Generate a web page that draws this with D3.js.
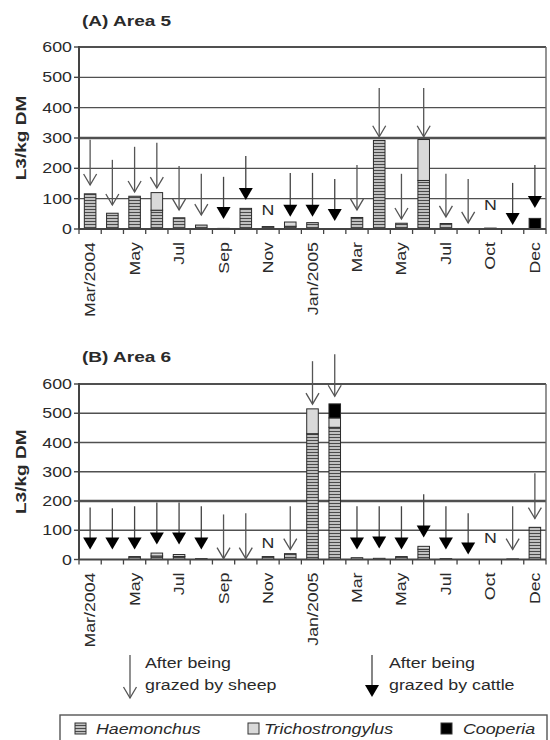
<!DOCTYPE html>
<html>
<head>
<meta charset="utf-8">
<script src="https://cdn.jsdelivr.net/npm/d3@7"></script>
<style>
  html, body { margin: 0; padding: 0; background: #fff; }
  svg { display: block; }
  text { font-family: "Liberation Sans", Arial, sans-serif; fill: #2a2a2a; }
</style>
</head>
<body>
<svg id="chart" width="550" height="740"></svg>
<script>
// ---------- DATA ----------
const months = ["2004-03","2004-04","2004-05","2004-06","2004-07","2004-08","2004-09","2004-10","2004-11","2004-12",
                "2005-01","2005-02","2005-03","2005-04","2005-05","2005-06","2005-07","2005-08","2005-10","2005-11","2005-12"];
const tickLabels = ["Mar/2004","","May","","Jul","","Sep","","Nov","","Jan/2005","","Mar","","May","","Jul","","Oct","","Dec"];
const yTicks = [0,100,200,300,400,500,600];

// Panel A (Area 5)
const haemA   = [116, 52, 108, 62, 37, 13, 2, 68, 8, 9, 21, 0, 38, 292, 19, 160, 18, 0, 3, 0, 0];
const trichoA = [0, 0, 0, 58, 0, 0, 0, 0, 0, 14, 0, 0, 0, 0, 0, 135, 0, 0, 0, 0, 0];
const coopA   = [0, 0, 0, 0, 0, 0, 0, 0, 0, 0, 0, 0, 0, 0, 0, 0, 0, 0, 0, 0, 35];
// arrow type: S = after sheep grazing, C = after cattle grazing, N = not grazed
const grazeA    = ["S","S","S","S","S","S","C","C","N","C","C","C","S","S","S","S","S","S","N","C","C"];
const arrowTopA = [294,228,271,284,208,182,172,241,null,185,185,165,211,465,182,465,182,165,null,152,211];
const arrowTipA = [145,79,122,135,63,46,33,96,63,40,40,26,63,304,33,304,40,20,79,13,69];

// Panel B (Area 6)
const haemB   = [0, 0, 10, 12, 10, 3, 0, 0, 10, 20, 430, 452, 6, 4, 10, 35, 3, 0, 0, 2, 110];
const trichoB = [0, 0, 0, 10, 7, 0, 0, 0, 0, 0, 85, 32, 0, 0, 0, 10, 0, 0, 0, 0, 0];
const coopB   = [0, 0, 0, 0, 0, 0, 0, 0, 0, 0, 0, 48, 0, 0, 0, 0, 0, 0, 0, 0, 0];
const grazeB    = ["C","C","C","C","C","C","S","S","N","S","S","S","C","C","C","C","C","C","N","S","S"];
const arrowTopB = [178,175,182,195,195,182,154,158,null,182,678,702,182,182,182,223,182,158,null,182,295];
const arrowTipB = [34,34,34,51,51,34,3,3,58,34,531,558,34,38,34,75,34,17,72,34,140];

const seriesNames = ["Haemonchus","Trichostrongylus","Cooperia"];

// ---------- DRAWING ----------
const SX = 1.27; // horizontal glyph stretch of the original typeface
const svg = d3.select("#chart");

const defs = svg.append("defs");
const pat = defs.append("pattern").attr("id","hstripe").attr("patternUnits","userSpaceOnUse")
  .attr("width",4).attr("height",3);
pat.append("rect").attr("width",4).attr("height",3).attr("fill","#c0c0c0");
pat.append("rect").attr("y",2).attr("width",4).attr("height",1).attr("fill","#4a4a4a");

const fills = {"Haemonchus":"url(#hstripe)","Trichostrongylus":"#d9d9d9","Cooperia":"#000"};

function stext(g, x, y, str, o = {}) {
  const t = g.append("text")
    .attr("transform", `translate(${x},${y})` + (o.rotate ? ` rotate(${o.rotate})` : "") + ` scale(${SX},1)`)
    .attr("text-anchor", o.anchor || "start")
    .attr("dy", o.dy || 0)
    .style("font-size", (o.size || 14) + "px")
    .style("font-weight", o.weight || "normal")
    .style("font-style", o.italic ? "italic" : "normal")
    .text(str);
  return t;
}

const x = d3.scaleBand().domain(months).range([79, 546]).padding(0);
const bw = x.bandwidth();
const barW = bw * 0.52;

function panel(cfg) {
  const g = svg.append("g");
  const y = d3.scaleLinear().domain([0, 600]).range([cfg.y0, cfg.y600]);
  const x0 = x.range()[0], x1 = x.range()[1];

  // title
  stext(g, 82, cfg.titleY, cfg.title, {size: 15, weight: "bold"});

  // gridlines
  yTicks.filter(v => v > 0).forEach(v => {
    g.append("line").attr("x1", x0).attr("x2", x1).attr("y1", y(v)).attr("y2", y(v))
      .attr("stroke", "#505050")
      .attr("stroke-width", v === cfg.heavy ? 2.6 : (v === 600 ? 2 : 1.4));
  });
  // right border
  g.append("line").attr("x1", x1).attr("x2", x1).attr("y1", y(600)).attr("y2", y(0))
    .attr("stroke", "#666").attr("stroke-width", 1.4);

  // y axis
  g.append("line").attr("x1", x0).attr("x2", x0).attr("y1", y(600) - 1).attr("y2", y(0))
    .attr("stroke", "#444").attr("stroke-width", 2);
  yTicks.forEach(v => {
    g.append("line").attr("x1", x0 - 5).attr("x2", x0).attr("y1", y(v)).attr("y2", y(v))
      .attr("stroke", "#444").attr("stroke-width", 1.4);
    stext(g, x0 - 7, y(v), String(v), {anchor: "end", dy: "0.36em", size: 14});
  });
  stext(g, 21, (y(0) + y(600)) / 2, "L3/kg DM", {rotate: -90, anchor: "middle", dy: "0.36em", size: 15, weight: "bold"});

  // bars (stacked)
  const stackData = months.map((m, i) => ({m, Haemonchus: cfg.h[i], Trichostrongylus: cfg.t[i], Cooperia: cfg.c[i]}));
  const stacked = d3.stack().keys(seriesNames)(stackData);
  stacked.forEach(s => {
    g.append("g").selectAll("rect").data(s).join("rect")
      .attr("x", d => x(d.data.m) + (bw - barW) / 2)
      .attr("width", barW)
      .attr("y", d => y(d[1]))
      .attr("height", d => Math.max(0, y(d[0]) - y(d[1])))
      .attr("fill", fills[s.key])
      .attr("stroke", d => (d[1] - d[0]) > 0 ? "#2a2a2a" : "none")
      .attr("stroke-width", 1);
  });

  // x axis
  g.append("line").attr("x1", x0).attr("x2", x1).attr("y1", y(0)).attr("y2", y(0))
    .attr("stroke", "#444").attr("stroke-width", 2);
  months.forEach((m, i) => {
    g.append("line").attr("x1", x(m)).attr("x2", x(m)).attr("y1", y(0)).attr("y2", y(0) + 5)
      .attr("stroke", "#444").attr("stroke-width", 1.3);
    if (tickLabels[i]) {
      stext(g, x(m) + bw / 2, y(0) + 13, tickLabels[i], {rotate: -90, anchor: "end", dy: "0.36em", size: 14});
    }
  });
  g.append("line").attr("x1", x1).attr("x2", x1).attr("y1", y(0)).attr("y2", y(0) + 5)
    .attr("stroke", "#444").attr("stroke-width", 1.3);

  // grazing arrows
  months.forEach((m, i) => {
    const cx = x(m) + bw / 2;
    const type = cfg.graze[i];
    const tip = y(cfg.tip[i]);
    if (type === "N") {
      stext(g, cx, tip, "N", {anchor: "middle", dy: "0.36em", size: 14});
      return;
    }
    const top = y(cfg.top[i]);
    drawArrow(g, cx, top, tip, type);
  });
}

function drawArrow(g, cx, top, tip, type) {
  if (type === "S") {
    g.append("line").attr("x1", cx).attr("x2", cx).attr("y1", top).attr("y2", tip)
      .attr("stroke", "#555").attr("stroke-width", 1.3);
    g.append("path").attr("d", `M${cx - 6.5},${tip - 11}L${cx},${tip}L${cx + 6.5},${tip - 11}`)
      .attr("fill", "none").attr("stroke", "#555").attr("stroke-width", 1.3);
  } else {
    g.append("line").attr("x1", cx).attr("x2", cx).attr("y1", top).attr("y2", tip - 10)
      .attr("stroke", "#444").attr("stroke-width", 1.3);
    g.append("path").attr("d", `M${cx - 7},${tip - 12}L${cx + 7},${tip - 12}L${cx},${tip}Z`)
      .attr("fill", "#000");
  }
}

panel({title: "(A) Area 5", titleY: 26, y0: 229, y600: 47, heavy: 300,
       h: haemA, t: trichoA, c: coopA, graze: grazeA, top: arrowTopA, tip: arrowTipA});
panel({title: "(B) Area 6", titleY: 362, y0: 559.5, y600: 384, heavy: 200,
       h: haemB, t: trichoB, c: coopB, graze: grazeB, top: arrowTopB, tip: arrowTipB});

// ---------- ARROW LEGEND ----------
const lg = svg.append("g");
drawArrow(lg, 130, 655, 698, "S");
stext(lg, 145, 668, "After being", {size: 14});
stext(lg, 145, 690, "grazed by sheep", {size: 14});
drawArrow(lg, 372, 655, 697, "C");
stext(lg, 389, 668, "After being", {size: 14});
stext(lg, 389, 690, "grazed by cattle", {size: 14});

// ---------- SERIES LEGEND ----------
lg.append("rect").attr("x", 60).attr("y", 715).attr("width", 487).attr("height", 40)
  .attr("fill", "none").attr("stroke", "#555").attr("stroke-width", 1.4);
const legendX = [{sx: 75, tx: 96}, {sx: 248, tx: 264}, {sx: 441, tx: 463}];
seriesNames.forEach((s, i) => {
  lg.append("rect").attr("x", legendX[i].sx).attr("y", 723).attr("width", 11).attr("height", 11)
    .attr("fill", fills[s]).attr("stroke", "#333").attr("stroke-width", 1);
  stext(lg, legendX[i].tx, 729, s, {size: 14, italic: true, dy: "0.36em"});
});
</script>
</body>
</html>
